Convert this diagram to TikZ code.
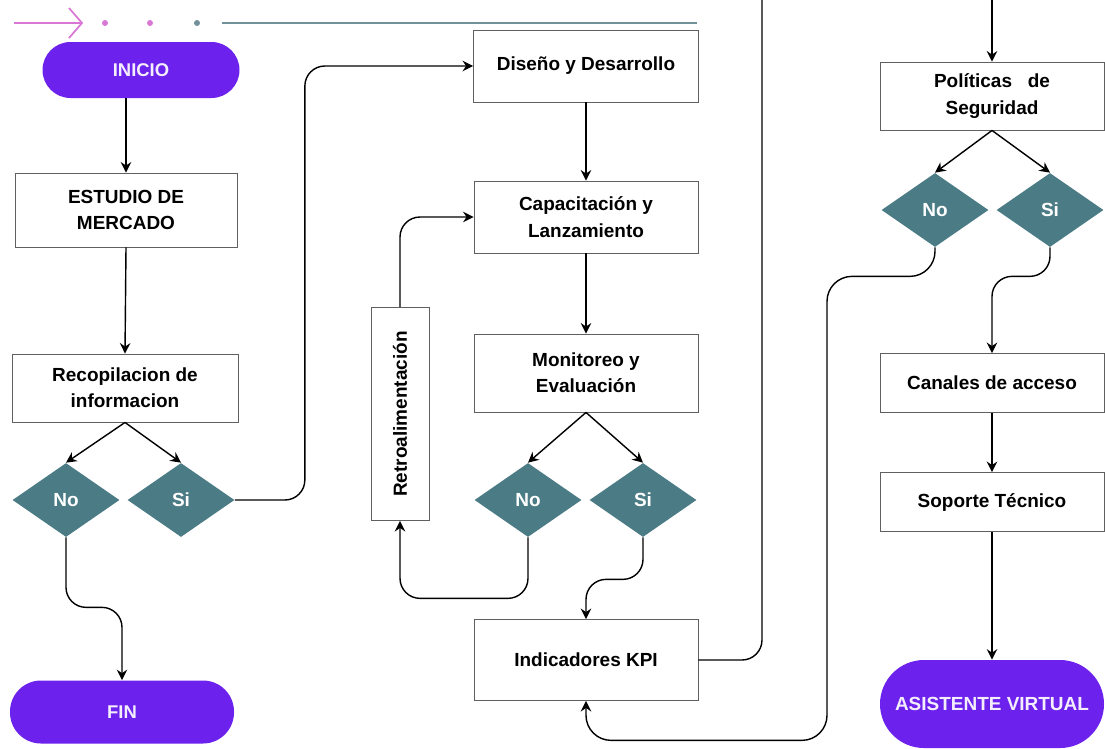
\documentclass[tikz,border=0pt]{standalone}
\usepackage{fontspec}
\setmainfont{Liberation Sans}
\usetikzlibrary{shapes.geometric,arrows.meta}
\definecolor{morado}{HTML}{6C22EC}
\definecolor{petroleo}{HTML}{4B7B85}
\definecolor{rosa}{HTML}{D877D4}
\definecolor{gristeal}{HTML}{71909A}
\pgfmathsetlengthmacro\px{0.02cm}
\tikzset{
  caja/.style={draw=gray!75!black, line width=0.5pt, fill=white, align=center,
    minimum width=224*\px, font=\bfseries\fontsize{10.8}{15}\selectfont},
  pastilla/.style={fill=morado, text=white!92!morado, align=center, minimum width=224*\px,
    font=\bfseries\fontsize{10.5}{12}\selectfont},
  rombo/.style={diamond, fill=petroleo, text=white, inner sep=0pt,
    minimum width=107*\px, minimum height=74*\px, font=\bfseries\fontsize{10.8}{12}\selectfont},
  flecha/.style={-{Stealth[length=6pt,width=6pt,inset=2pt]}, line width=0.8pt, rounded corners=20*\px},
  linea/.style={line width=0.8pt, rounded corners=20*\px}
}
\begin{document}
\begin{tikzpicture}[x=0.02cm, y={(0cm,-0.02cm)}]
\useasboundingbox (0,0) rectangle (1105,748);
% adorno superior
\draw[rosa, line width=1pt] (14,23) -- (82,23) (69,8) -- (82,23) -- (69,38);
\foreach \xx/\cc in {105/rosa,150/rosa,197/gristeal} \fill[\cc] (\xx,23) circle (3);
\draw[gristeal, line width=1.6pt] (222,23) -- (697,23);
% columna 1
\node[pastilla, minimum width=197*\px, minimum height=56*\px, rounded corners=28*\px] (inicio) at (141,70) {INICIO};
\node[caja, minimum width=222*\px, minimum height=74*\px] (estudio) at (126,210) {ESTUDIO DE\\MERCADO};
\node[caja, minimum width=226*\px, minimum height=68*\px] (recop) at (125,388) {Recopilacion de\\informacion};
\node[rombo] (noA) at (66,500) {No};
\node[rombo] (siA) at (181,500) {Si};
\node[pastilla, minimum height=63*\px, rounded corners=31*\px] (fin) at (122,712) {FIN};
% columna 2
\node[caja, minimum width=225*\px, minimum height=72*\px] (diseno) at (586,66) {Diseño y Desarrollo};
\node[caja, minimum height=72*\px] (capac) at (586,217) {Capacitación y\\Lanzamiento};
\node[caja, minimum height=78*\px] (monit) at (586,373) {Monitoreo y\\Evaluación};
\node[rombo] (noB) at (528,500) {No};
\node[rombo] (siB) at (643,500) {Si};
\node[caja, rotate=90, minimum width=213*\px, minimum height=58*\px] (retro) at (400,414) {Retroalimentación};
\node[caja, minimum height=81*\px] (kpi) at (586,660) {Indicadores KPI};
% columna 3
\node[caja, minimum height=68*\px] (polit) at (992,96) {Políticas\ \ \ de\\Seguridad};
\node[rombo] (noC) at (935,210) {No};
\node[rombo] (siC) at (1050,210) {Si};
\node[caja, minimum height=59*\px] (canales) at (992,383) {Canales de acceso};
\node[caja, minimum height=59*\px] (soporte) at (992,502) {Soporte Técnico};
\node[pastilla, minimum height=88*\px, rounded corners=44*\px, font=\bfseries\fontsize{10.8}{12}\selectfont] (asist) at (992,704) {ASISTENTE VIRTUAL};
\coordinate (salida) at (762,0);
\coordinate (entrada) at (992,0);
% conectores
\draw[flecha] (inicio.south -| estudio.north) -- (estudio.north);
\draw[flecha] (estudio.south) -- (recop.north);
\draw[flecha] (recop.south) -- (noA.north);
\draw[flecha] (recop.south) -- (siA.north);
\draw[flecha] (noA.south) -- ++(0,70) -| (fin.north);
\draw[flecha] (siA.east) -- ++(70,0) |- (diseno.west);
\draw[flecha] (diseno.south) -- (capac.north);
\draw[flecha] (capac.south) -- (monit.north);
\draw[flecha] (monit.south) -- (noB.north);
\draw[flecha] (monit.south) -- (siB.north);
\draw[flecha] (noB.south) -- ++(0,61) -| (retro.west);
\draw[flecha] (retro.east) |- (capac.west);
\draw[flecha] (siB.south) -- ++(0,42) -| (kpi.north);
\draw[linea] (kpi.east) -| (salida);
\draw[flecha] (entrada) -- (polit.north);
\draw[flecha] (polit.south) -- (noC.north);
\draw[flecha] (polit.south) -- (siC.north);
\draw[flecha, rounded corners=25*\px] (noC.south) -- ++(0,29) -| ++(-108,464) -| (kpi.south);
\draw[flecha] (siC.south) -- ++(0,29) -| (canales.north);
\draw[flecha] (canales.south) -- (soporte.north);
\draw[flecha] (soporte.south) -- (asist.north);
\end{tikzpicture}
\end{document}
